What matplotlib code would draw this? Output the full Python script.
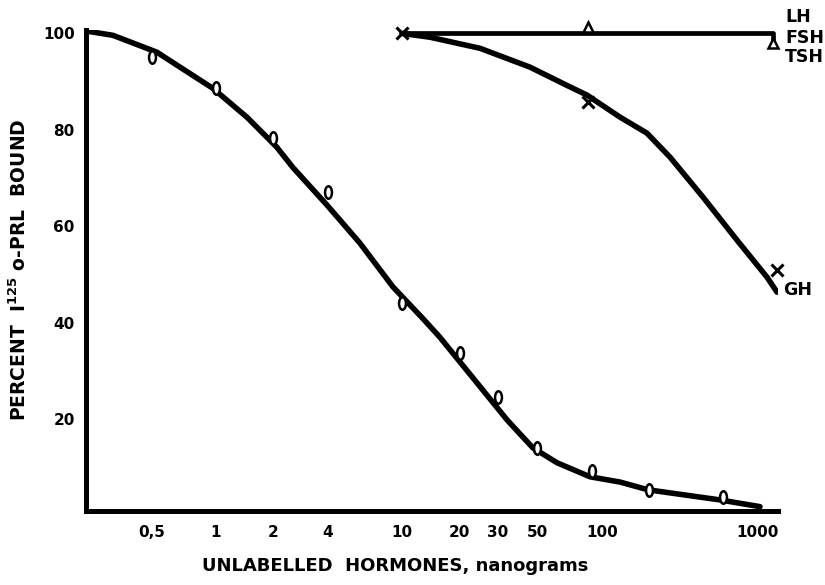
import numpy as np
import matplotlib
matplotlib.use("Agg")
import matplotlib.pyplot as plt
from matplotlib.path import Path

# prolactin standard (o) : dose in ng, percent bound
prl_dose = [0.5, 1, 2, 4, 10, 20, 30, 50, 90, 200, 600]
prl_pct = [95.0, 88.6, 78.2, 67.0, 44.0, 33.7, 24.6, 14.0, 9.2, 5.3, 3.8]
# hand drawn fitted curve through the prolactin points
prl_curve_dose = [0.245, 0.328, 0.528, 0.678, 0.968, 1.46, 2.10, 2.57, 3.95, 5.94,
                  8.95, 12.8, 15.7, 23.0, 33.8, 47.4, 62.0, 88.0, 131, 198, 577, 1045]
prl_curve_pct = [100.5, 99.6, 96.1, 93.0, 88.6, 82.6, 76.4, 72.2, 64.4, 56.5,
                 47.4, 40.9, 37.0, 28.5, 19.8, 14.0, 10.9, 8.0, 6.9, 5.3, 3.2, 1.8]

# growth hormone (x)
gh_dose = [10, 86, 1340]
gh_pct = [100, 85.7, 50.9]
gh_curve_dose = [10, 14.0, 24.8, 45.6, 68.9, 85.2, 131, 195, 275, 449, 743, 1161, 1346]
gh_curve_pct = [100, 99.2, 96.9, 93.0, 89.2, 87.2, 82.6, 79.3, 74.3, 66.0, 57.1, 49.4, 46.3]

# LH / FSH / TSH (triangles)
lh_line_dose = [10, 1268, 1268]
lh_line_pct = [100, 100, 98.4]
lh_dose = [86, 1268]
lh_pct = [101.4, 98.0]

x_ticks = [0.5, 1, 2, 4, 10, 20, 30, 50, 100, 1000]
x_ticklabels = ["0,5", "1", "2", "4", "10", "20", "30", "50", "100", "1000"]
y_ticks = [20, 40, 60, 80, 100]

# the printed dose axis is only roughly logarithmic: spacing of its labels
tick_spacing = np.array([152, 216, 273, 328, 402, 460, 498, 537, 602, 757], float)
lg = np.log10(x_ticks)
ax_log = np.concatenate([[-9], lg, [9]])
ax_pos = np.concatenate([[tick_spacing[0] - (lg[0] + 9) * 212.6], tick_spacing,
                         [tick_spacing[-1] + (9 - lg[-1]) * 155.0]])


def fwd(x):
    lx = np.log10(np.clip(np.asarray(x, float), 1e-9, None))
    return np.interp(lx, ax_log, ax_pos)


def inv(p):
    return 10 ** np.interp(np.asarray(p, float), ax_pos, ax_log)


fig = plt.figure(figsize=(8.25, 5.85), dpi=100)
ax = fig.add_axes([0.1042, 0.1265, 0.8388, 0.8222])
ax.set_xscale("function", functions=(fwd, inv))
ax.set_xlim(0.245, 1365)
ax.set_ylim(0.9, 100.7)

lw = 4.0
ax.plot(prl_curve_dose, prl_curve_pct, color="black", lw=lw,
        solid_capstyle="round", solid_joinstyle="round")
ax.plot(gh_curve_dose, gh_curve_pct, color="black", lw=lw,
        solid_capstyle="round", solid_joinstyle="round")
ax.plot(lh_line_dose, lh_line_pct, color="black", lw=3.4,
        solid_capstyle="butt", solid_joinstyle="round")

# narrow open "0" marker
circ = Path.unit_circle()
oval = Path(circ.vertices * [0.55, 1.0], circ.codes)
ax.plot(prl_dose, prl_pct, ls="none", marker=oval, ms=9, mfc="white",
        mec="black", mew=1.8, clip_on=False)
ax.plot(gh_dose, gh_pct, ls="none", marker="x", ms=8, mec="black", mew=2.2,
        clip_on=False)
ax.plot(lh_dose, lh_pct, ls="none", marker="^", ms=7, mfc="white",
        mec="black", mew=1.8, clip_on=False)

for s in ["top", "right"]:
    ax.spines[s].set_visible(False)
for s in ["left", "bottom"]:
    ax.spines[s].set_linewidth(3.6)

ax.set_xticks(x_ticks)
ax.set_xticklabels(x_ticklabels)
ax.xaxis.set_minor_locator(matplotlib.ticker.NullLocator())
ax.set_yticks(y_ticks)
ax.tick_params(length=0, labelsize=11)
ax.tick_params(axis="x", pad=10)
ax.tick_params(axis="y", pad=8)
for t in ax.get_xticklabels() + ax.get_yticklabels():
    t.set_fontweight("bold")

lab = dict(fontsize=12.5, fontweight="bold", ha="left", va="center", clip_on=False)
ax.text(1517, 103.3, "LH", **lab)
ax.text(1517, 99.0, "FSH", **lab)
ax.text(1517, 95.0, "TSH", **lab)
ax.text(1472, 46.7, "GH", **lab)

fig.text(19 / 825, 1 - 270 / 585, r"PERCENT  I$^{\mathbf{125}}$ o-PRL  BOUND",
         rotation=90, ha="center", va="center", fontsize=13.5, fontweight="bold")
fig.text(395 / 825, 1 - 566 / 585, "UNLABELLED  HORMONES, nanograms",
         ha="center", va="center", fontsize=13, fontweight="bold")

fig.savefig("out.png", dpi=100)
